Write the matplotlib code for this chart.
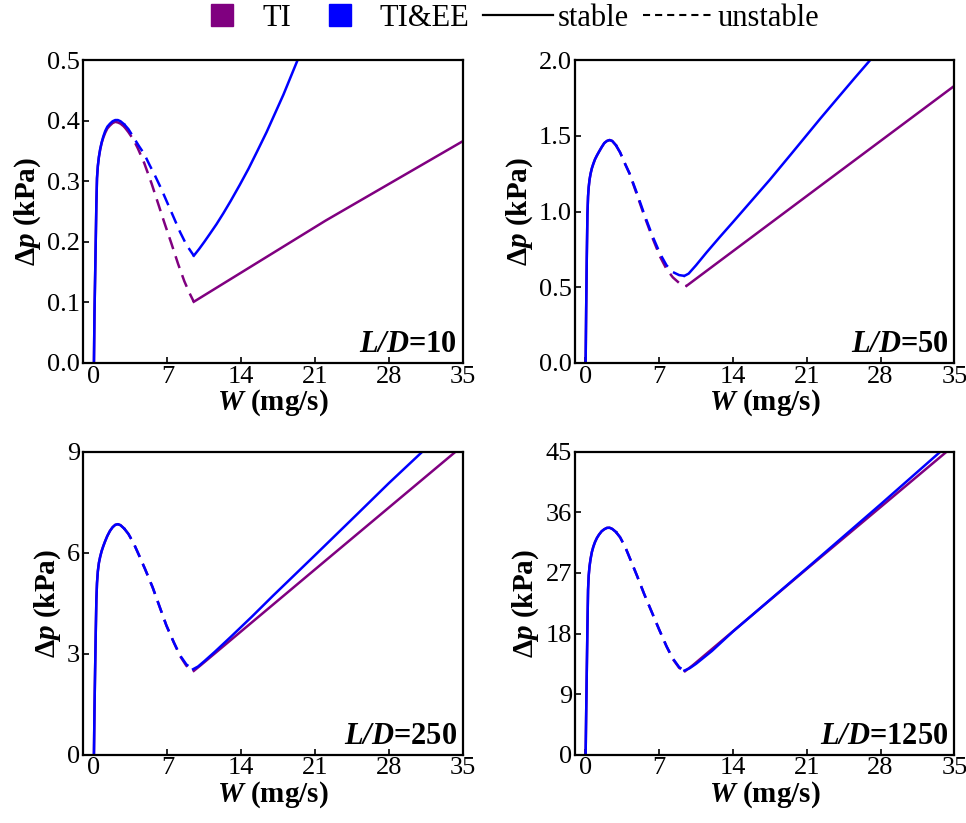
import matplotlib
matplotlib.use('Agg')
import matplotlib.pyplot as plt
from matplotlib.lines import Line2D

plt.rcParams['font.family'] = 'serif'
plt.rcParams['font.serif'] = ['Liberation Serif', 'DejaVu Serif']
plt.rcParams['mathtext.fontset'] = 'custom'
plt.rcParams['mathtext.rm'] = 'Liberation Serif'
plt.rcParams['mathtext.it'] = 'Liberation Serif:italic'
plt.rcParams['mathtext.bf'] = 'Liberation Serif:bold'
plt.rcParams['mathtext.bfit'] = 'Liberation Serif:italic:bold'

TI_COLOR = '#800080'
EE_COLOR = '#0000ff'

ratios = ['10', '50', '250', '1250']

# W points along the steep rising branch (same sampling in every panel)
w_rise = [0.03, 0.08, 0.14, 0.2, 0.26, 0.32, 0.4, 0.5, 0.62, 0.76, 0.92,
          1.1, 1.3, 1.55, 1.8, 2.05, 2.3, 2.55, 2.9]

# ---- L/D = 10 ----
ee_rise_10 = [0.0, 0.08, 0.14, 0.2, 0.262, 0.305, 0.325, 0.34, 0.353, 0.364, 0.374,
              0.383, 0.390, 0.395, 0.399, 0.401, 0.401, 0.399, 0.394]
ti_rise_10 = [0.0, 0.08, 0.14, 0.2, 0.262, 0.305, 0.325, 0.34, 0.352, 0.363, 0.372,
              0.380, 0.387, 0.392, 0.396, 0.398, 0.397, 0.395, 0.39]
w_ee_uns_10 = [2.9, 3.3, 3.8, 4.3, 4.8, 5.3, 5.8, 6.4, 7.0, 7.6, 8.2, 8.8, 9.5]
ee_uns_10 = [0.394, 0.386, 0.372, 0.358, 0.345, 0.327, 0.310, 0.288, 0.264, 0.240, 0.216, 0.195, 0.177]
w_ee_st_10 = [9.5, 10.0, 10.5, 11.0, 11.65, 12.3, 13.0, 13.86, 14.7, 15.5, 16.4, 17.2, 18.0, 18.8, 19.6]
ee_st_10 = [0.177, 0.188, 0.200, 0.2125, 0.229, 0.247, 0.2675, 0.294, 0.321, 0.349, 0.381, 0.412,
            0.443, 0.477, 0.511]
w_ti_uns_10 = [2.9, 3.3, 3.8, 4.2, 4.8, 5.5, 6.1, 6.7, 7.4, 8.0, 8.6, 9.1, 9.5]
ti_uns_10 = [0.39, 0.381, 0.368, 0.354, 0.330, 0.296, 0.264, 0.232, 0.196, 0.164, 0.135, 0.115, 0.101]
w_ti_st_10 = [9.5, 22.0, 35.0]
ti_st_10 = [0.101, 0.235, 0.366]

# ---- L/D = 50 ----
ee_rise_50 = [0.0, 0.35, 0.70, 0.98, 1.10, 1.16, 1.21, 1.25, 1.285, 1.315, 1.345,
              1.37, 1.395, 1.425, 1.452, 1.466, 1.472, 1.466, 1.438]
ti_rise_50 = ee_rise_50
w_ee_uns_50 = [2.9, 3.3, 3.8, 4.2, 4.9, 5.6, 6.4, 7.1, 7.7, 8.3, 8.9, 9.4]
ee_uns_50 = [1.438, 1.39, 1.31, 1.25, 1.12, 0.98, 0.833, 0.72, 0.645, 0.60, 0.58, 0.575]
w_ee_st_50 = [9.4, 9.8, 10.5, 11.5, 12.77, 14.0, 15.5, 17.5, 19.5, 21.0, 22.3, 24.0, 25.5, 27.2]
ee_st_50 = [0.575, 0.59, 0.645, 0.73, 0.833, 0.93, 1.05, 1.21, 1.378, 1.505, 1.615, 1.755, 1.878, 2.015]
w_ti_uns_50 = [2.9, 3.3, 3.8, 4.2, 4.9, 5.6, 6.4, 7.1, 7.7, 8.3, 8.9, 9.3, 9.6]
ti_uns_50 = [1.438, 1.39, 1.31, 1.25, 1.11, 0.97, 0.82, 0.70, 0.62, 0.565, 0.528, 0.512, 0.509]
w_ti_st_50 = [9.6, 22.3, 35.0]
ti_st_50 = [0.509, 1.17, 1.83]

# ---- L/D = 250 ----
ee_rise_250 = [0.0, 1.3, 2.5, 3.6, 4.6, 5.1, 5.45, 5.7, 5.88, 6.05, 6.2,
               6.35, 6.5, 6.65, 6.76, 6.83, 6.85, 6.82, 6.72]
ti_rise_250 = ee_rise_250
w_ee_uns_250 = [2.9, 3.3, 3.8, 4.3, 4.9, 5.6, 6.3, 6.9, 7.6, 8.2, 8.8, 9.43]
ee_uns_250 = [6.72, 6.56, 6.28, 5.93, 5.5, 4.97, 4.36, 3.84, 3.34, 2.95, 2.68, 2.54]
w_ee_st_250 = [9.43, 9.9, 10.5, 11.5, 13.0, 15.0, 17.0, 21.0, 25.0, 28.0, 31.5]
ee_st_250 = [2.54, 2.62, 2.78, 3.06, 3.5, 4.1, 4.72, 5.93, 7.15, 8.07, 9.1]
w_ti_uns_250 = [2.9, 3.3, 3.8, 4.3, 4.9, 5.6, 6.3, 6.9, 7.6, 8.2, 8.8, 9.5]
ti_uns_250 = [6.72, 6.56, 6.28, 5.93, 5.5, 4.97, 4.36, 3.84, 3.34, 2.93, 2.64, 2.49]
w_ti_st_250 = [9.5, 10.2, 11.0, 22.0, 34.5]
ti_st_250 = [2.49, 2.67, 2.88, 5.77, 9.05]

# ---- L/D = 1250 ----
ee_rise_1250 = [0.0, 6.0, 12.5, 19.0, 24.5, 26.6, 28.0, 29.1, 30.1, 30.9, 31.6,
                32.2, 32.7, 33.2, 33.5, 33.7, 33.72, 33.55, 33.1]
ti_rise_1250 = ee_rise_1250
w_ee_uns_1250 = [2.9, 3.3, 3.8, 4.3, 4.9, 5.6, 6.3, 7.0, 7.7, 8.3, 8.9, 9.4]
ee_uns_1250 = [33.1, 32.3, 30.8, 28.9, 26.6, 23.8, 21.2, 18.6, 16.1, 14.3, 13.0, 12.5]
w_ee_st_1250 = [9.4, 9.9, 10.5, 12.0, 14.0, 21.0, 28.0, 33.8]
ee_st_1250 = [12.5, 12.85, 13.5, 15.4, 18.3, 27.7, 37.2, 45.2]
w_ti_uns_1250 = [2.9, 3.3, 3.8, 4.3, 4.9, 5.6, 6.3, 7.0, 7.7, 8.3, 8.9, 9.45]
ti_uns_1250 = [33.1, 32.3, 30.8, 28.9, 26.6, 23.8, 21.2, 18.6, 16.1, 14.2, 12.9, 12.4]
w_ti_st_1250 = [9.45, 10.2, 21.0, 34.4]
ti_st_1250 = [12.4, 13.3, 27.6, 45.2]

panels = [
    (ee_rise_10, ti_rise_10, w_ee_uns_10, ee_uns_10, w_ee_st_10, ee_st_10,
     w_ti_uns_10, ti_uns_10, w_ti_st_10, ti_st_10),
    (ee_rise_50, ti_rise_50, w_ee_uns_50, ee_uns_50, w_ee_st_50, ee_st_50,
     w_ti_uns_50, ti_uns_50, w_ti_st_50, ti_st_50),
    (ee_rise_250, ti_rise_250, w_ee_uns_250, ee_uns_250, w_ee_st_250, ee_st_250,
     w_ti_uns_250, ti_uns_250, w_ti_st_250, ti_st_250),
    (ee_rise_1250, ti_rise_1250, w_ee_uns_1250, ee_uns_1250, w_ee_st_1250, ee_st_1250,
     w_ti_uns_1250, ti_uns_1250, w_ti_st_1250, ti_st_1250),
]

y_ticks = [
    [0.0, 0.1, 0.2, 0.3, 0.4, 0.5],
    [0.0, 0.5, 1.0, 1.5, 2.0],
    [0, 3, 6, 9],
    [0, 9, 18, 27, 36, 45],
]
y_fmt = ['{:.1f}', '{:.1f}', '{:d}', '{:d}']
x_ticks = [0, 7, 14, 21, 28, 35]

fig = plt.figure(figsize=(9.66, 8.23), dpi=100)
lefts = [0.086, 0.595]
bottoms = [0.559, 0.083]
axes = []
for r in range(2):
    for c in range(2):
        axes.append(fig.add_axes([lefts[c], bottoms[r], 0.393, 0.368]))

lw = 1.8
dash = (5, 3)
for i, ax in enumerate(axes):
    (ee_rise, ti_rise, w_eu, ee_u, w_es, ee_s, w_tu, ti_u, w_ts, ti_s) = panels[i]
    # TI first, TI&EE on top
    ax.plot(w_rise, ti_rise, color=TI_COLOR, lw=lw)
    ax.plot(w_tu, ti_u, color=TI_COLOR, lw=lw, dashes=dash)
    ax.plot(w_ts, ti_s, color=TI_COLOR, lw=lw)
    ax.plot(w_rise, ee_rise, color=EE_COLOR, lw=lw)
    ax.plot(w_eu, ee_u, color=EE_COLOR, lw=lw, dashes=dash)
    ax.plot(w_es, ee_s, color=EE_COLOR, lw=lw)

    ax.set_xlim(-1.0, 35)
    ax.set_ylim(y_ticks[i][0], y_ticks[i][-1])
    ax.set_xticks(x_ticks)
    ax.set_xticklabels([str(t) for t in x_ticks])
    ax.set_yticks(y_ticks[i])
    ax.set_yticklabels([y_fmt[i].format(t) for t in y_ticks[i]])
    ax.tick_params(direction='in', length=4, width=1.2, labelsize=19, pad=2)
    for s in ax.spines.values():
        s.set_linewidth(1.6)

    ax.set_xlabel(r'$\mathbfit{W}$ (mg/s)', fontsize=21, fontweight='bold', labelpad=0)
    ax.set_ylabel(r'Δ$\mathbfit{p}$ (kPa)', fontsize=21, fontweight='bold', labelpad=3)
    ax.text(0.985, 0.012, r'$\mathbfit{L/D}$=' + ratios[i], transform=ax.transAxes,
            ha='right', va='bottom', fontsize=22, fontweight='bold')

handles = [
    Line2D([], [], color=TI_COLOR, marker='s', markersize=16, linestyle='none'),
    Line2D([], [], color=EE_COLOR, marker='s', markersize=16, linestyle='none'),
    Line2D([], [], color='black', lw=1.6),
    Line2D([], [], color='black', lw=1.5, dashes=(3.4, 2.4)),
]
fig.legend(handles, ['TI', 'TI&EE', 'stable', 'unstable'], loc='center',
           bbox_to_anchor=(0.521, 0.978), ncol=4, frameon=False, fontsize=22,
           handlelength=2.3, handletextpad=0.15, columnspacing=0.45, borderpad=0)

fig.savefig('out.png', dpi=100)
